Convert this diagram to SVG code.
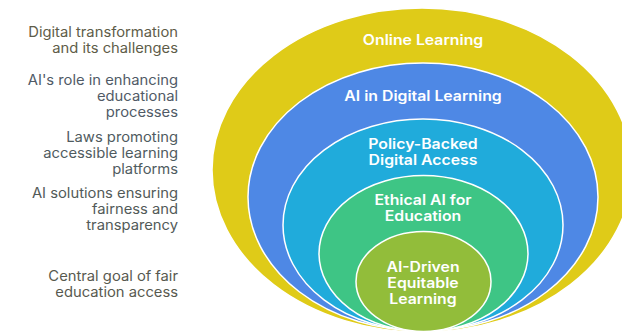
<svg xmlns="http://www.w3.org/2000/svg" width="622" height="332" viewBox="0 0 622 332">
<style>
.ring{stroke:#ffffff;stroke-width:1.5}
.lbl{font-family:Inter,"Liberation Sans",sans-serif;font-size:14px;font-weight:600;fill:#ffffff;text-anchor:middle}
.side{font-family:Inter,"Liberation Sans",sans-serif;font-size:14px;text-anchor:end}
</style>
<rect width="622" height="332" fill="#ffffff"/>
<g id="online-learning">
<ellipse class="ring" cx="422" cy="170" rx="210" ry="162" fill="#dfcb18"/>
<g transform="translate(423,0) scale(1.13,1)"><text class="lbl" x="0" y="45">Online Learning</text></g>
</g>
<g id="ai-digital-learning">
<ellipse class="ring" cx="423" cy="197" rx="175" ry="134" fill="#4e88e5"/>
<g transform="translate(423,0) scale(1.13,1)"><text class="lbl" x="0" y="101">AI in Digital Learning</text></g>
</g>
<g id="policy-backed">
<ellipse class="ring" cx="423" cy="225" rx="140" ry="106" fill="#20abdb"/>
<g transform="translate(423,0) scale(1.13,1)"><text class="lbl" x="0" y="149">Policy-Backed</text><text class="lbl" x="0" y="165">Digital Access</text></g>
</g>
<g id="ethical-ai">
<ellipse class="ring" cx="423.5" cy="253.5" rx="104.5" ry="78" fill="#3ec585"/>
<g transform="translate(423,0) scale(1.13,1)"><text class="lbl" x="0" y="205">Ethical AI for</text><text class="lbl" x="0" y="221">Education</text></g>
</g>
<g id="ai-driven">
<ellipse class="ring" cx="423.5" cy="281.5" rx="67.5" ry="50" fill="#92bd3a"/>
<g transform="translate(423,0) scale(1.13,1)"><text class="lbl" x="0" y="272">AI-Driven</text><text class="lbl" x="0" y="288">Equitable</text><text class="lbl" x="0" y="304">Learning</text></g>
</g>
<g id="descriptions" transform="translate(178,0) scale(1.055,1)">
<text class="side" fill="#5e5c48"><tspan x="0" y="37">Digital transformation</tspan><tspan x="0" y="53">and its challenges</tspan></text>
<text class="side" fill="#505a66"><tspan x="0" y="85">AI's role in enhancing</tspan><tspan x="0" y="101">educational</tspan><tspan x="0" y="117">processes</tspan></text>
<text class="side" fill="#4f5b60"><tspan x="0" y="142">Laws promoting</tspan><tspan x="0" y="158">accessible learning</tspan><tspan x="0" y="174">platforms</tspan></text>
<text class="side" fill="#525a58"><tspan x="0" y="198">AI solutions ensuring</tspan><tspan x="0" y="214">fairness and</tspan><tspan x="0" y="230">transparency</tspan></text>
<text class="side" fill="#58594f"><tspan x="0" y="281">Central goal of fair</tspan><tspan x="0" y="297">education access</tspan></text>
</g>
</svg>
